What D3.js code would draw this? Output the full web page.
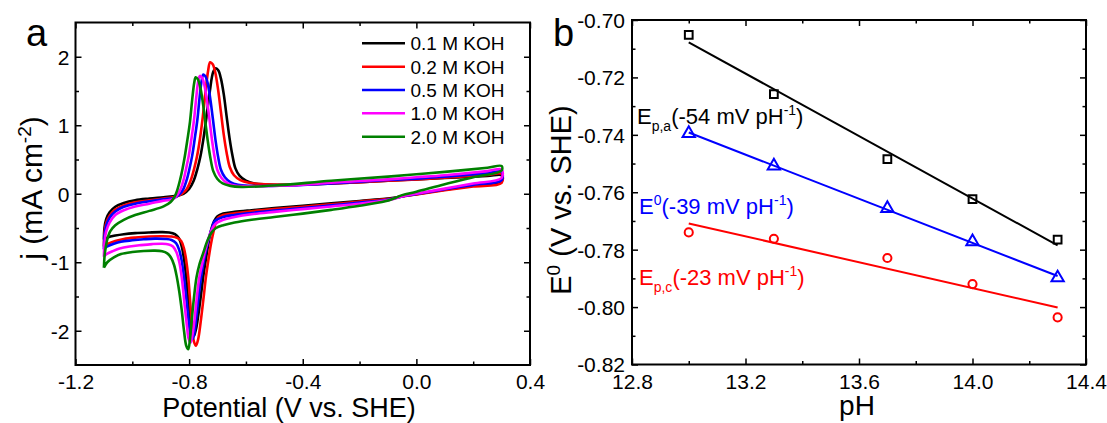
<!DOCTYPE html>
<html><head><meta charset="utf-8">
<script src="https://cdn.jsdelivr.net/npm/d3@7"></script>
<style>
body{margin:0;background:#fff}
svg{display:block}
text{font-family:Arial,'Liberation Sans',Helvetica,sans-serif}
</style>
</head><body>
<svg id="c" width="1107" height="423"></svg>
<script>
// ---------- Panel a data: cyclic voltammograms [potential V, current mA cm-2] ----------
const cvSeriesNames = ["0.1 M KOH","0.2 M KOH","0.5 M KOH","1.0 M KOH","2.0 M KOH"];
const cv01 = [
[-1.100,-0.67],[-1.098,-0.50],[-1.092,-0.37],[-1.080,-0.27],[-1.060,-0.19],[-1.030,-0.135],[-0.990,-0.095],[-0.940,-0.07],[-0.890,-0.05],
[-0.845,-0.03],[-0.820,0.00],[-0.800,0.07],[-0.784,0.19],[-0.771,0.36],[-0.760,0.55],[-0.749,0.82],[-0.738,1.15],[-0.727,1.50],[-0.715,1.78],[-0.706,1.83],
[-0.697,1.80],[-0.688,1.68],[-0.678,1.45],[-0.668,1.13],[-0.658,0.82],[-0.648,0.57],[-0.637,0.37],[-0.622,0.26],[-0.600,0.19],[-0.570,0.15],[-0.530,0.135],
[-0.450,0.13],[-0.300,0.15],[-0.100,0.19],[0.000,0.21],[0.100,0.23],[0.250,0.26],[0.300,0.27],
[0.300,0.18],[0.200,0.12],[0.100,0.06],[0.000,-0.005],[-0.050,-0.035],[-0.080,-0.06],[-0.110,-0.075],[-0.200,-0.105],[-0.300,-0.14],[-0.400,-0.175],[-0.500,-0.21],[-0.580,-0.24],[-0.640,-0.265],[-0.680,-0.29],
[-0.700,-0.33],[-0.712,-0.40],[-0.722,-0.52],[-0.731,-0.70],[-0.740,-0.93],[-0.750,-1.20],[-0.759,-1.50],[-0.768,-1.78],[-0.776,-1.98],[-0.784,-2.08],
[-0.791,-2.03],[-0.797,-1.85],[-0.803,-1.58],[-0.811,-1.20],[-0.818,-0.95],[-0.826,-0.77],[-0.836,-0.65],[-0.850,-0.59],[-0.870,-0.565],[-0.900,-0.56],[-0.940,-0.565],
[-0.990,-0.575],[-1.030,-0.59],[-1.060,-0.61],[-1.085,-0.635],[-1.100,-0.67]
];
const cv02 = [
[-1.100,-0.77],[-1.098,-0.58],[-1.092,-0.43],[-1.080,-0.32],[-1.060,-0.23],[-1.030,-0.17],[-0.990,-0.125],[-0.940,-0.095],[-0.890,-0.07],
[-0.845,-0.04],[-0.825,0.00],[-0.808,0.07],[-0.794,0.20],[-0.782,0.37],[-0.772,0.55],[-0.762,0.80],[-0.752,1.12],[-0.742,1.50],[-0.733,1.80],[-0.726,1.92],
[-0.717,1.89],[-0.708,1.77],[-0.698,1.52],[-0.688,1.19],[-0.678,0.86],[-0.668,0.60],[-0.657,0.39],[-0.642,0.27],[-0.620,0.20],[-0.590,0.16],[-0.550,0.14],
[-0.450,0.13],[-0.300,0.15],[-0.100,0.19],[0.000,0.21],[0.100,0.235],[0.250,0.275],[0.300,0.29],
[0.300,0.16],[0.200,0.105],[0.100,0.05],[0.000,-0.01],[-0.050,-0.04],[-0.080,-0.065],[-0.110,-0.08],[-0.200,-0.115],[-0.300,-0.155],[-0.400,-0.19],[-0.500,-0.225],[-0.580,-0.255],[-0.640,-0.285],[-0.680,-0.31],
[-0.698,-0.35],[-0.706,-0.42],[-0.714,-0.55],[-0.723,-0.73],[-0.732,-0.96],[-0.741,-1.22],[-0.750,-1.55],[-0.759,-1.86],[-0.768,-2.12],[-0.776,-2.22],
[-0.783,-2.16],[-0.789,-1.96],[-0.795,-1.65],[-0.803,-1.22],[-0.810,-0.98],[-0.818,-0.80],[-0.828,-0.69],[-0.842,-0.645],[-0.862,-0.625],[-0.900,-0.62],[-0.940,-0.625],
[-0.990,-0.64],[-1.030,-0.66],[-1.060,-0.69],[-1.085,-0.73],[-1.100,-0.77]
];
const cv05 = [
[-1.100,-0.81],[-1.098,-0.62],[-1.092,-0.47],[-1.080,-0.35],[-1.060,-0.26],[-1.030,-0.19],[-0.990,-0.145],[-0.940,-0.11],[-0.890,-0.08],
[-0.852,-0.06],[-0.834,-0.01],[-0.820,0.07],[-0.808,0.21],[-0.798,0.38],[-0.789,0.56],[-0.780,0.81],[-0.771,1.08],[-0.763,1.41],[-0.756,1.65],[-0.750,1.74],
[-0.742,1.71],[-0.734,1.60],[-0.725,1.37],[-0.716,1.08],[-0.707,0.78],[-0.698,0.54],[-0.688,0.35],[-0.674,0.24],[-0.655,0.17],[-0.628,0.13],[-0.590,0.115],
[-0.450,0.12],[-0.300,0.15],[-0.100,0.20],[0.000,0.22],[0.100,0.25],[0.250,0.30],[0.300,0.32],
[0.300,0.20],[0.200,0.13],[0.100,0.065],[0.000,-0.005],[-0.050,-0.04],[-0.080,-0.07],[-0.110,-0.09],[-0.200,-0.13],[-0.300,-0.17],[-0.400,-0.21],[-0.500,-0.245],[-0.580,-0.28],[-0.640,-0.31],[-0.680,-0.34],
[-0.710,-0.40],[-0.718,-0.48],[-0.728,-0.61],[-0.738,-0.78],[-0.748,-0.98],[-0.758,-1.22],[-0.767,-1.52],[-0.775,-1.82],[-0.782,-2.04],[-0.788,-2.12],
[-0.795,-2.06],[-0.801,-1.88],[-0.808,-1.60],[-0.818,-1.22],[-0.826,-0.98],[-0.835,-0.82],[-0.846,-0.72],[-0.862,-0.675],[-0.885,-0.66],[-0.920,-0.655],[-0.960,-0.665],
[-1.000,-0.68],[-1.040,-0.70],[-1.065,-0.73],[-1.088,-0.77],[-1.100,-0.81]
];
const cv10 = [
[-1.100,-0.92],[-1.098,-0.72],[-1.092,-0.55],[-1.080,-0.42],[-1.060,-0.31],[-1.030,-0.24],[-0.990,-0.185],[-0.940,-0.145],[-0.890,-0.10],
[-0.858,-0.08],[-0.842,-0.02],[-0.830,0.07],[-0.819,0.21],[-0.810,0.38],[-0.801,0.56],[-0.792,0.80],[-0.783,1.07],[-0.775,1.40],[-0.768,1.64],[-0.762,1.72],
[-0.754,1.69],[-0.746,1.58],[-0.737,1.36],[-0.728,1.07],[-0.719,0.77],[-0.710,0.53],[-0.700,0.34],[-0.686,0.23],[-0.667,0.16],[-0.640,0.12],[-0.602,0.11],
[-0.450,0.12],[-0.300,0.16],[-0.100,0.21],[0.000,0.24],[0.100,0.27],[0.250,0.33],[0.300,0.355],
[0.300,0.23],[0.200,0.15],[0.100,0.075],[0.000,0.00],[-0.050,-0.04],[-0.080,-0.075],[-0.110,-0.10],[-0.200,-0.145],[-0.300,-0.185],[-0.400,-0.225],[-0.500,-0.265],[-0.580,-0.30],[-0.640,-0.34],[-0.680,-0.38],
[-0.710,-0.45],[-0.722,-0.54],[-0.733,-0.67],[-0.744,-0.84],[-0.754,-1.02],[-0.764,-1.22],[-0.773,-1.52],[-0.781,-1.84],[-0.789,-2.08],[-0.795,-2.17],
[-0.802,-2.11],[-0.808,-1.92],[-0.816,-1.62],[-0.826,-1.22],[-0.835,-0.99],[-0.845,-0.85],[-0.857,-0.77],[-0.872,-0.74],[-0.895,-0.73],[-0.930,-0.735],[-0.970,-0.75],
[-1.010,-0.77],[-1.045,-0.80],[-1.070,-0.84],[-1.090,-0.88],[-1.100,-0.92]
];
const cv20 = [
[-1.100,-1.08],[-1.097,-0.88],[-1.090,-0.70],[-1.078,-0.55],[-1.060,-0.46],[-1.030,-0.38],[-0.990,-0.31],[-0.940,-0.25],[-0.890,-0.185],
[-0.865,-0.12],[-0.852,-0.05],[-0.842,0.05],[-0.832,0.20],[-0.823,0.37],[-0.815,0.55],[-0.806,0.79],[-0.797,1.05],[-0.789,1.38],[-0.782,1.62],[-0.777,1.70],
[-0.769,1.67],[-0.761,1.56],[-0.752,1.34],[-0.743,1.05],[-0.734,0.76],[-0.725,0.52],[-0.715,0.33],[-0.701,0.22],[-0.682,0.15],[-0.655,0.115],[-0.617,0.10],
[-0.500,0.12],[-0.300,0.19],[-0.100,0.25],[0.000,0.285],[0.100,0.32],[0.250,0.38],[0.300,0.405],
[0.300,0.34],[0.200,0.24],[0.100,0.14],[0.000,0.03],[-0.050,-0.02],[-0.080,-0.07],[-0.110,-0.11],[-0.200,-0.175],[-0.300,-0.235],[-0.400,-0.29],[-0.500,-0.34],[-0.580,-0.38],[-0.640,-0.42],[-0.680,-0.46],
[-0.705,-0.50],[-0.720,-0.56],[-0.735,-0.68],[-0.750,-0.86],[-0.763,-1.02],[-0.774,-1.22],[-0.783,-1.52],[-0.791,-1.85],[-0.797,-2.12],[-0.803,-2.27],
[-0.810,-2.22],[-0.818,-2.00],[-0.826,-1.70],[-0.835,-1.42],[-0.844,-1.20],[-0.853,-1.04],[-0.864,-0.93],[-0.877,-0.87],[-0.895,-0.84],[-0.920,-0.83],[-0.960,-0.835],
[-1.000,-0.85],[-1.040,-0.88],[-1.065,-0.93],[-1.088,-1.00],[-1.100,-1.08]
];
const cvCurves = [cv01, cv02, cv05, cv10, cv20];
const cvColors = ["#000000","#ff0000","#0000ff","#ff00ff","#008000"];

const aXTicks = [-1.2,-0.8,-0.4,0.0,0.4];
const aXTickLabels = ["-1.2","-0.8","-0.4","0.0","0.4"];
const aXMinor = [-1.0,-0.6,-0.2,0.2];
const aYTicks = [-2,-1,0,1,2];
const aYTickLabels = ["-2","-1","0","1","2"];
const aYMinor = [-1.5,-0.5,0.5,1.5];

// ---------- Panel b data ----------
const pH = [13.0, 13.3, 13.7, 14.0, 14.3];
const Epa = [-0.7052, -0.7258, -0.7485, -0.7624, -0.7765];
const E0  = [-0.7395, -0.7508, -0.7656, -0.7772, -0.7898];
const Epc = [-0.7740, -0.7762, -0.7829, -0.7920, -0.8036];
const bXTicks = [12.8,13.2,13.6,14.0,14.4];
const bXTickLabels = ["12.8","13.2","13.6","14.0","14.4"];
const bXMinor = [13.0,13.4,13.8,14.2];
const bYTicks = [-0.82,-0.80,-0.78,-0.76,-0.74,-0.72,-0.70];
const bYTickLabels = ["-0.82","-0.80","-0.78","-0.76","-0.74","-0.72","-0.70"];
const bYMinor = [-0.81,-0.79,-0.77,-0.75,-0.73,-0.71];

// ---------- drawing ----------
const svg = d3.select("#c");
const A = {l:75.5, r:530, t:22.5, b:365};
const B = {l:632, r:1086, t:20, b:364.5};

const xA = d3.scaleLinear().domain([-1.2,0.4]).range([A.l,A.r]);
const yA = d3.scaleLinear().domain([-2.5,2.5]).range([A.b,A.t]);
const xB = d3.scaleLinear().domain([12.8,14.4]).range([B.l,B.r]);
const yB = d3.scaleLinear().domain([-0.82,-0.70]).range([B.b,B.t]);

function axes(P, x, y, xt, xl, xm, yt, yl, ym, ypad, xlabY){
  const g = svg.append("g");
  const mk = (ax, tx, ty, vals, size, labels, pad) => {
    const a = ax.tickValues(vals).tickSizeInner(size).tickSizeOuter(0)
      .tickFormat(labels ? (d,i)=>labels[i] : "").tickPadding(pad||0);
    const s = g.append("g").attr("transform",`translate(${tx},${ty})`).call(a);
    s.select(".domain").remove();
    s.selectAll("line").attr("stroke","#000").attr("stroke-width",1.5);
    s.selectAll("text").attr("font-size",21).attr("fill","#000")
      .attr("font-family","Arial, 'Liberation Sans', sans-serif");
    return s;
  };
  const bx = mk(d3.axisBottom(x),0,P.b,xt,-6,xl,10);
  bx.selectAll("text").attr("dy",null).attr("y",xlabY);
  mk(d3.axisBottom(x),0,P.b,xm,-3.5,null);
  mk(d3.axisTop(x),0,P.t,xt,-6,null);
  mk(d3.axisTop(x),0,P.t,xm,-3.5,null);
  const ly = mk(d3.axisLeft(y),P.l,0,yt,-6,yl,ypad);
  ly.selectAll("text").attr("dy","0.35em");
  mk(d3.axisLeft(y),P.l,0,ym,-3.5,null);
  mk(d3.axisRight(y),P.r,0,yt,-6,null);
  mk(d3.axisRight(y),P.r,0,ym,-3.5,null);
  g.append("rect").attr("x",P.l).attr("y",P.t).attr("width",P.r-P.l).attr("height",P.b-P.t)
    .attr("fill","none").attr("stroke","#000").attr("stroke-width",2);
}

// Panel a curves
const lineA = d3.line().x(d=>xA(d[0])).y(d=>yA(d[1])).curve(d3.curveCatmullRom.alpha(0.5));
cvCurves.forEach((c,i)=>{
  svg.append("path").datum(c).attr("d",lineA).attr("fill","none")
    .attr("stroke",cvColors[i]).attr("stroke-width",2.6).attr("stroke-linejoin","round");
});
axes(A,xA,yA,aXTicks,aXTickLabels,aXMinor,aYTicks,aYTickLabels,aYMinor,6,24);

// legend
const leg = svg.append("g");
cvSeriesNames.forEach((n,i)=>{
  const cy = 43.3 + i*23.35;
  leg.append("line").attr("x1",362).attr("x2",405).attr("y1",cy).attr("y2",cy)
    .attr("stroke",cvColors[i]).attr("stroke-width",2.5);
  leg.append("text").attr("x",410.5).attr("y",cy+7).attr("font-size",19).text(n);
});

// axis titles panel a
svg.append("text").attr("x",289).attr("y",417).attr("text-anchor","middle").attr("font-size",27)
  .text("Potential (V vs. SHE)");
const ta = svg.append("text").attr("transform","translate(42,188) rotate(-90)")
  .attr("text-anchor","middle").attr("font-size",30);
ta.append("tspan").text("j (mA cm");
ta.append("tspan").attr("dy",-11).attr("font-size",19).text("-2");
ta.append("tspan").attr("dy",11).text(")");
svg.append("text").attr("x",26).attr("y",46).attr("font-size",38).text("a");

// Panel b
function fit(xs, ys){
  const mx=d3.mean(xs), my=d3.mean(ys);
  const sxy=d3.sum(xs,(x,i)=>(x-mx)*(ys[i]-my)), sxx=d3.sum(xs,x=>(x-mx)*(x-mx));
  const k=sxy/sxx; return [[xs[0], my+k*(xs[0]-mx)],[xs[xs.length-1], my+k*(xs[xs.length-1]-mx)]];
}
const lineB = d3.line().x(d=>xB(d[0])).y(d=>yB(d[1]));
const bSeries = [
  {vals:Epa, color:"#000000", sym:d3.symbolSquare, size:60},
  {vals:E0,  color:"#0000ff", sym:d3.symbolTriangle, size:66},
  {vals:Epc, color:"#ff0000", sym:d3.symbolCircle, size:52}
];
bSeries.forEach(s=>{
  svg.append("path").datum(fit(pH,s.vals)).attr("d",lineB).attr("fill","none")
    .attr("stroke",s.color).attr("stroke-width",2);
  svg.append("g").selectAll("path").data(pH.map((p,i)=>[p,s.vals[i]])).join("path")
    .attr("transform",d=>`translate(${xB(d[0])},${yB(d[1])})`)
    .attr("d",d3.symbol().type(s.sym).size(s.size))
    .attr("fill","none").attr("stroke",s.color).attr("stroke-width",2);
});
axes(B,xB,yB,bXTicks,bXTickLabels,bXMinor,bYTicks,bYTickLabels,bYMinor,7,24);

function annot(x,y,color,base,sub,sup0,rest){
  const t = svg.append("text").attr("x",x).attr("y",y).attr("font-size",22).attr("fill",color);
  t.append("tspan").text(base);
  if(sub){ t.append("tspan").attr("dy",7).attr("font-size",14).text(sub);
           t.append("tspan").attr("dy",-7).text(rest); }
  else { t.append("tspan").attr("dy",-9).attr("font-size",14).text(sup0);
         t.append("tspan").attr("dy",9).text(rest); }
  t.append("tspan").attr("dy",-9).attr("font-size",14).text("-1");
  t.append("tspan").attr("dy",9).text(")");
}
annot(637,123.5,"#000000","E","p,a",null,"(-54 mV pH");
annot(639,213.5,"#0000ff","E",null,"0","(-39 mV pH");
annot(639,285,"#ff0000","E","p,c",null,"(-23 mV pH");

svg.append("text").attr("x",857).attr("y",415).attr("text-anchor","middle").attr("font-size",28).text("pH");
const tb = svg.append("text").attr("transform","translate(571,200) rotate(-90)")
  .attr("text-anchor","middle").attr("font-size",29);
tb.append("tspan").text("E");
tb.append("tspan").attr("dy",-11).attr("font-size",19).text("0");
tb.append("tspan").attr("dy",11).text(" (V vs. SHE)");
svg.append("text").attr("x",553).attr("y",46).attr("font-size",38).text("b");
</script>
</body></html>
